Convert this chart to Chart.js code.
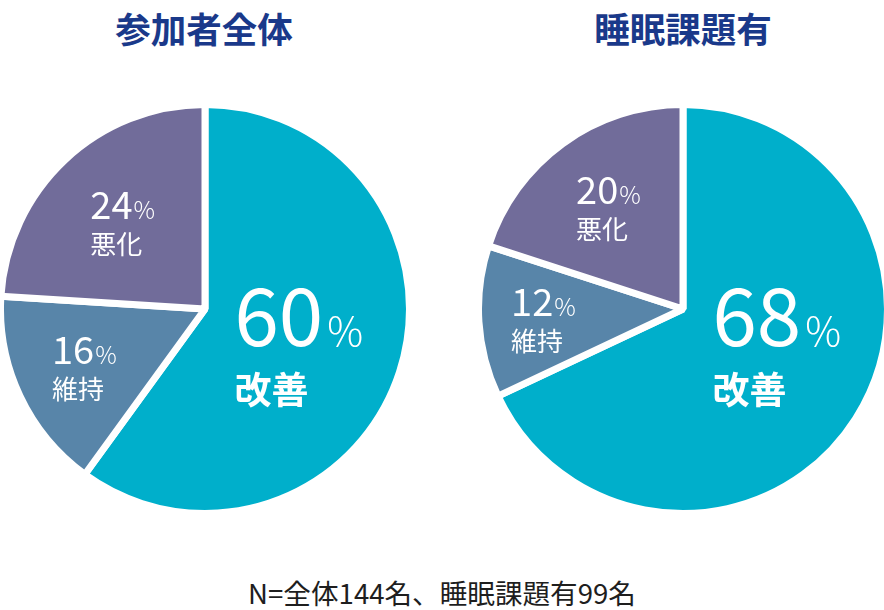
<!DOCTYPE html>
<html>
<head>
<meta charset="utf-8">
<script src="https://cdn.jsdelivr.net/npm/chart.js@4"></script>
<style>
  html, body { margin: 0; padding: 0; background: #fff; }
  body { width: 884px; height: 610px; position: relative; overflow: hidden; font-family: "Noto Sans CJK JP", "Noto Sans", sans-serif; }
  .title { position: absolute; top: 7px; width: 300px; text-align: center; font-size: 35.5px; font-weight: bold; color: #1a398a; line-height: 42px; }
  .box { position: absolute; top: 101px; width: 416px; height: 416px; }
  #note { position: absolute; left: 0; width: 884px; top: 574px; text-align: center; font-size: 27.6px; color: #1e1e1e; line-height: 36px; }
</style>
</head>
<body>
<div class="title" id="title-left" style="left:54px"></div>
<div class="title" id="title-right" style="left:533px"></div>
<div class="box" style="left:-3px"><canvas id="pie-left" width="416" height="416"></canvas></div>
<div class="box" style="left:475px"><canvas id="pie-right" width="416" height="416"></canvas></div>
<div id="note"></div>
<script>
// data
const categories = ["改善", "維持", "悪化"];
const allValues = [60, 16, 24];
const sleepValues = [68, 12, 20];
const chartTitles = ["参加者全体", "睡眠課題有"];
const noteText = "N=全体144名、睡眠課題有99名";
const sliceColors = ["#00afcb", "#5885a9", "#716c9a"];

document.getElementById("title-left").textContent = chartTitles[0];
document.getElementById("title-right").textContent = chartTitles[1];
document.getElementById("note").textContent = noteText;

const FONT = '"Noto Sans CJK JP", "Noto Sans", sans-serif';

// white labels inside each slice, number + % on top, category below
const sliceLabels = {
    id: "sliceLabels",
    afterDatasetsDraw(chart) {
        const ctx = chart.ctx;
        const meta = chart.getDatasetMeta(0);
        const data = chart.data.datasets[0].data;
        const total = data.reduce((a, b) => a + b, 0);
        meta.data.forEach((arc, i) => {
            const p = arc.getProps(["x", "y", "startAngle", "endAngle", "outerRadius"], true);
            const share = data[i] / total;
            const big = share > 0.5;
            let cx, cy;
            if (big) {
                // the main slice gets its label just right of the centre
                cx = p.x + Math.cos(0.36) * p.outerRadius * 0.49;
                cy = p.y + Math.sin(0.36) * p.outerRadius * 0.49;
            } else {
                const f = 0.78 - 0.8 * share;
                const mid = (p.startAngle + p.endAngle) / 2;
                cx = p.x + Math.cos(mid) * p.outerRadius * f;
                cy = p.y + Math.sin(mid) * p.outerRadius * f;
            }

            const numFont = big ? "400 80px " + FONT : "400 38px " + FONT;
            const pctFont = big ? "300 40px " + FONT : "300 24px " + FONT;
            const wordFont = big ? "bold 37px " + FONT : "400 26px " + FONT;

            ctx.save();
            ctx.fillStyle = "#fff";
            ctx.textBaseline = "alphabetic";
            ctx.textAlign = "left";
            ctx.font = numFont;
            const numW = ctx.measureText(String(data[i])).width;
            ctx.font = pctFont;
            const pctW = ctx.measureText("%").width;
            ctx.font = wordFont;
            const wordW = ctx.measureText(categories[i]).width;
            const gap = big ? 4 : 1;
            const w = Math.max(numW + gap + pctW, wordW);
            const left = cx - w / 2;

            const numBase = big ? cy + 2 : cy - 2;
            const wordBase = big ? cy + 60 : cy + 33;
            ctx.font = numFont;
            ctx.fillText(String(data[i]), left, numBase);
            ctx.font = pctFont;
            ctx.fillText("%", left + numW + gap, numBase);
            ctx.font = wordFont;
            ctx.fillText(categories[i], left, wordBase);
            ctx.restore();
        });
    }
};

function makePie(id, values) {
    return new Chart(document.getElementById(id), {
        type: "pie",
        data: {
            labels: categories,
            datasets: [{
                data: values,
                backgroundColor: sliceColors,
                borderColor: "#fff",
                borderWidth: 7,
                hoverOffset: 0
            }]
        },
        options: {
            responsive: false,
            animation: false,
            layout: { padding: 0 },
            events: [],
            plugins: {
                legend: { display: false },
                tooltip: { enabled: false }
            }
        },
        plugins: [sliceLabels]
    });
}

makePie("pie-left", allValues);
makePie("pie-right", sleepValues);
</script>
</body>
</html>
